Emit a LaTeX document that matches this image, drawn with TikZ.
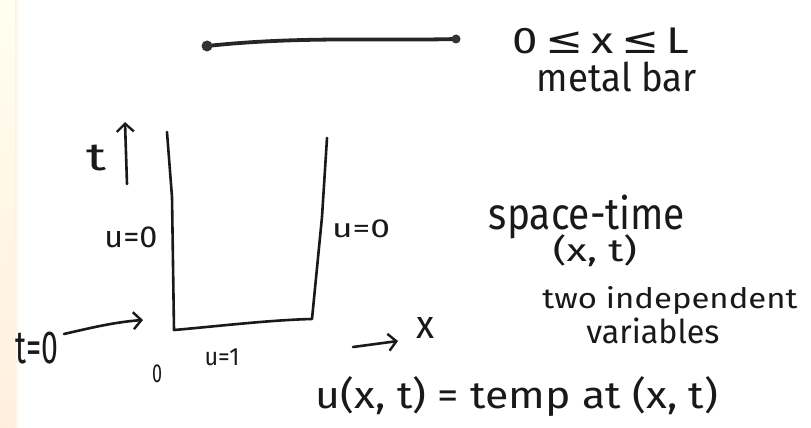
\documentclass[tikz,border=0pt]{standalone}
\usepackage{fontspec}
\setmainfont{Fira Sans}
\newfontfamily\symfont{DejaVu Sans}
\usetikzlibrary{arrows.meta}
\newcommand\hwtext[3]{\resizebox*{#1pt}{#2pt}{#3}}
\tikzset{
  hand/.style={line width=2.6pt, line cap=round, line join=round, black!90},
  handarrow/.style={hand, -{Straight Barb[length=8pt,width=17pt,line width=2.4pt]}},
  lbl/.style={inner sep=0pt, outer sep=0pt, text=black!90},
}
\begin{document}
\begin{tikzpicture}[x=1pt,y=-1pt]
\useasboundingbox (0,0) rectangle (811,428);
\fill[white] (0,0) rectangle (811,428);
\shade[top color=orange!8!yellow!6, bottom color=orange!13!white] (0,0) rectangle (15,428);
\shade[left color=orange!10!white, right color=white] (15,0) rectangle (19,428);

% metal bar
\coordinate (barL) at (207,46);
\coordinate (barR) at (456,39);
\draw[line width=3.8pt, line cap=round, black!85] (barL) .. controls (300,36) and (380,41) .. (barR);
\fill[black!80] (barL) circle (5.5pt);
\fill[black!80] (barR) circle (4.5pt);

\node[lbl] (range) at (601,41) {\hwtext{177}{26}{0\,{\symfont ≤}\,x\,{\symfont ≤}\,L}};
\node[lbl] (metal) at (617,77) {\hwtext{160}{30}{metal bar}};

% space-time region
\coordinate (lt) at (167,132);
\coordinate (lm) at (172,197);
\coordinate (lb) at (174,330);
\coordinate (rb) at (312,319);
\coordinate (rm) at (322,217);
\coordinate (rt) at (327,138);
\draw[hand] (lt) -- (lm) -- (lb) .. controls (220,326) and (270,320) .. (rb) -- (rm) -- (rt);

% t axis
\coordinate (tA) at (127,184);
\coordinate (tB) at (125,122);
\draw[handarrow] (tA) -- (tB);
\node[lbl] (t) at (97,158) {\hwtext{20}{26}{t}};

\node[lbl] (u0l) at (131,237) {\hwtext{53}{21}{u=0}};
\node[lbl] (u0r) at (361,229) {\hwtext{58}{18}{u=0}};

% t=0 arrow
\node[lbl] (t0) at (37,348) {\hwtext{43}{32}{t=0}};
\coordinate (t0A) at (64,334);
\coordinate (t0B) at (143,320);
\draw[handarrow] (t0A) .. controls (90,328) and (115,322) .. (t0B);

\node[lbl] (zero) at (157,374) {\hwtext{10}{18}{0}};
\node[lbl] (u1) at (222,357) {\hwtext{35}{17}{u=1}};

% x axis
\coordinate (xA) at (353,347);
\coordinate (xB) at (398,341);
\draw[handarrow] (xA) -- (xB);
\node[lbl] (x) at (425,328) {\hwtext{18}{21}{x}};

\node[lbl] (st) at (587,217) {\hwtext{196}{44}{space-time}};
\node[lbl] (xt) at (595,251) {\hwtext{84}{32}{(x, t)}};
\node[lbl] (two) at (670,301) {\hwtext{255}{28}{two independent}};
\node[lbl] (var) at (653,331) {\hwtext{133}{26}{variables}};
\node[lbl] (def) at (517,397) {\hwtext{402}{40}{u(x, t) = temp at (x, t)}};
\end{tikzpicture}
\end{document}
